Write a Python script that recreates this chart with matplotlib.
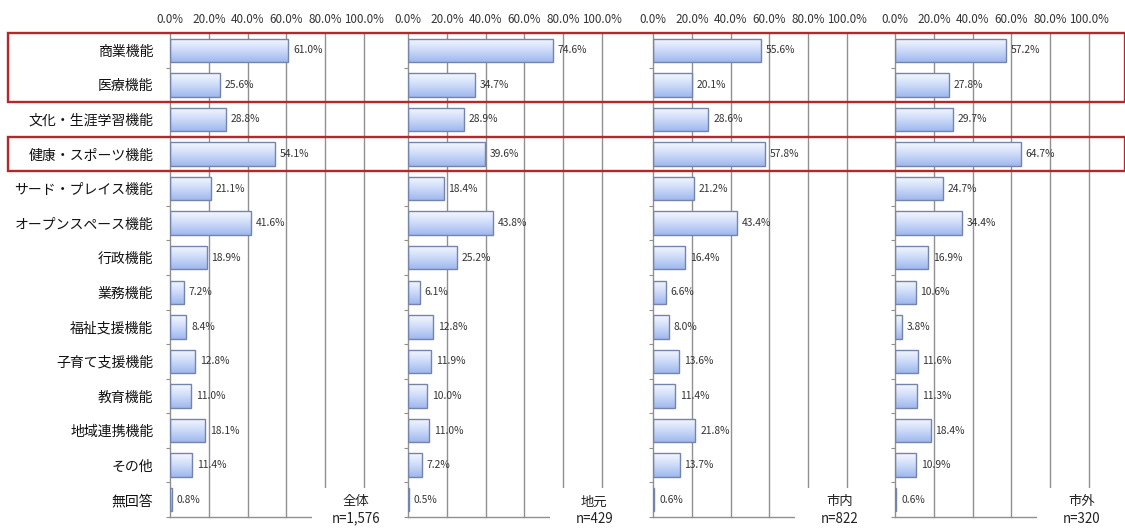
import matplotlib
matplotlib.use("Agg")
import matplotlib.pyplot as plt
import numpy as np
from matplotlib.colors import LinearSegmentedColormap
from matplotlib.patches import Rectangle
from matplotlib.transforms import blended_transform_factory

plt.rcParams['font.family'] = ['Noto Sans CJK JP', 'DejaVu Sans']

# Data
categories = ["商業機能", "医療機能", "文化・生涯学習機能", "健康・スポーツ機能",
              "サード・プレイス機能", "オープンスペース機能", "行政機能", "業務機能",
              "福祉支援機能", "子育て支援機能", "教育機能", "地域連携機能", "その他", "無回答"]
groups = ["全体", "地元", "市内", "市外"]
n_labels = ["n=1,576", "n=429", "n=822", "n=320"]
zentai = [61.0, 25.6, 28.8, 54.1, 21.1, 41.6, 18.9, 7.2, 8.4, 12.8, 11.0, 18.1, 11.4, 0.8]
jimoto = [74.6, 34.7, 28.9, 39.6, 18.4, 43.8, 25.2, 6.1, 12.8, 11.9, 10.0, 11.0, 7.2, 0.5]
shinai = [55.6, 20.1, 28.6, 57.8, 21.2, 43.4, 16.4, 6.6, 8.0, 13.6, 11.4, 21.8, 13.7, 0.6]
shigai = [57.2, 27.8, 29.7, 64.7, 24.7, 34.4, 16.9, 10.6, 3.8, 11.6, 11.3, 18.4, 10.9, 0.6]
series = [zentai, jimoto, shinai, shigai]
xticks = [0, 20, 40, 60, 80, 100]
highlight_rows = [(0, 1), (3, 3)]

W, H = 1125, 531
fig = plt.figure(figsize=(W / 100, H / 100), dpi=100)

grad = LinearSegmentedColormap.from_list("g", ["#f6f8ff", "#cddbf9", "#9fb8ee"])
grad_img = np.linspace(0, 1, 64).reshape(-1, 1)

lefts = [170, 408, 653, 895]
ax_w = 194
ax_top, ax_bot = 33, 517
y = np.arange(len(categories))
nrow = len(categories)

axes = []
for i, (vals, grp, nl) in enumerate(zip(series, groups, n_labels)):
    ax = fig.add_axes([lefts[i] / W, (H - ax_bot) / H, ax_w / W, (ax_bot - ax_top) / H])
    axes.append(ax)

    for gx in xticks[1:]:
        ax.axvline(gx, color="#909090", lw=1.0, zorder=1, clip_on=False)

    bars = ax.barh(y, vals, height=0.68, facecolor="none", edgecolor="#7484aa",
                   lw=1.0, zorder=3)
    for b in bars:
        x0, y0 = b.get_x(), b.get_y()
        im = ax.imshow(grad_img, cmap=grad, aspect="auto", zorder=2,
                       extent=(x0, x0 + b.get_width(), y0 + b.get_height(), y0))
        im.set_clip_path(b)
    ax.set_xlim(0, 100)
    ax.set_ylim(nrow - 0.5, -0.5)

    for yy, v in zip(y, vals):
        ax.text(v + 2.5, yy, f"{v:.1f}%", va="center", ha="left", fontsize=7.4,
                color="#333333", zorder=4)

    ax.xaxis.tick_top()
    ax.set_xticks(xticks)
    ax.set_xticklabels([f"{t:.1f}%" for t in xticks], fontsize=8.4, color="#333333")
    ax.tick_params(axis="x", length=0, pad=5)

    ax.set_yticks(np.arange(nrow + 1) - 0.5, minor=True)
    ax.set_yticks(y)
    if i == 0:
        ax.set_yticklabels(categories, fontsize=10, color="#111111")
    else:
        ax.set_yticklabels([])
    ax.tick_params(axis="y", which="major", length=0, pad=12)
    ax.tick_params(axis="y", which="minor", length=3, color="#909090", width=0.8)

    for s in ["top", "right"]:
        ax.spines[s].set_visible(False)
    for s in ["left", "bottom"]:
        ax.spines[s].set_color("#909090")
        ax.spines[s].set_linewidth(1.0)

    # white area behind the group label (hides grid end and axis line)
    tb = blended_transform_factory(ax.transAxes, ax.transData)
    ax.add_patch(Rectangle((0.73, 12.66), 0.45, 1.5, transform=tb, facecolor="white",
                           edgecolor="none", zorder=5, clip_on=False))
    ax.text(0.96, 13.05, grp, transform=tb, ha="center", va="center", fontsize=9.6,
            color="#222222", zorder=6)
    ax.text(0.96, 13.55, nl, transform=tb, ha="center", va="center", fontsize=9.6,
            color="#222222", zorder=6, clip_on=False)

# Red highlight boxes
tr = blended_transform_factory(fig.transFigure, axes[0].transData)
for r0, r1 in highlight_rows:
    rect = Rectangle((8 / W, r0 - 0.5), (W - 8) / W, r1 - r0 + 1, transform=tr,
                     fill=False, edgecolor="#b8262c", lw=1.7, zorder=10)
    fig.add_artist(rect)

fig.savefig("out.png", dpi=100, facecolor="white")
